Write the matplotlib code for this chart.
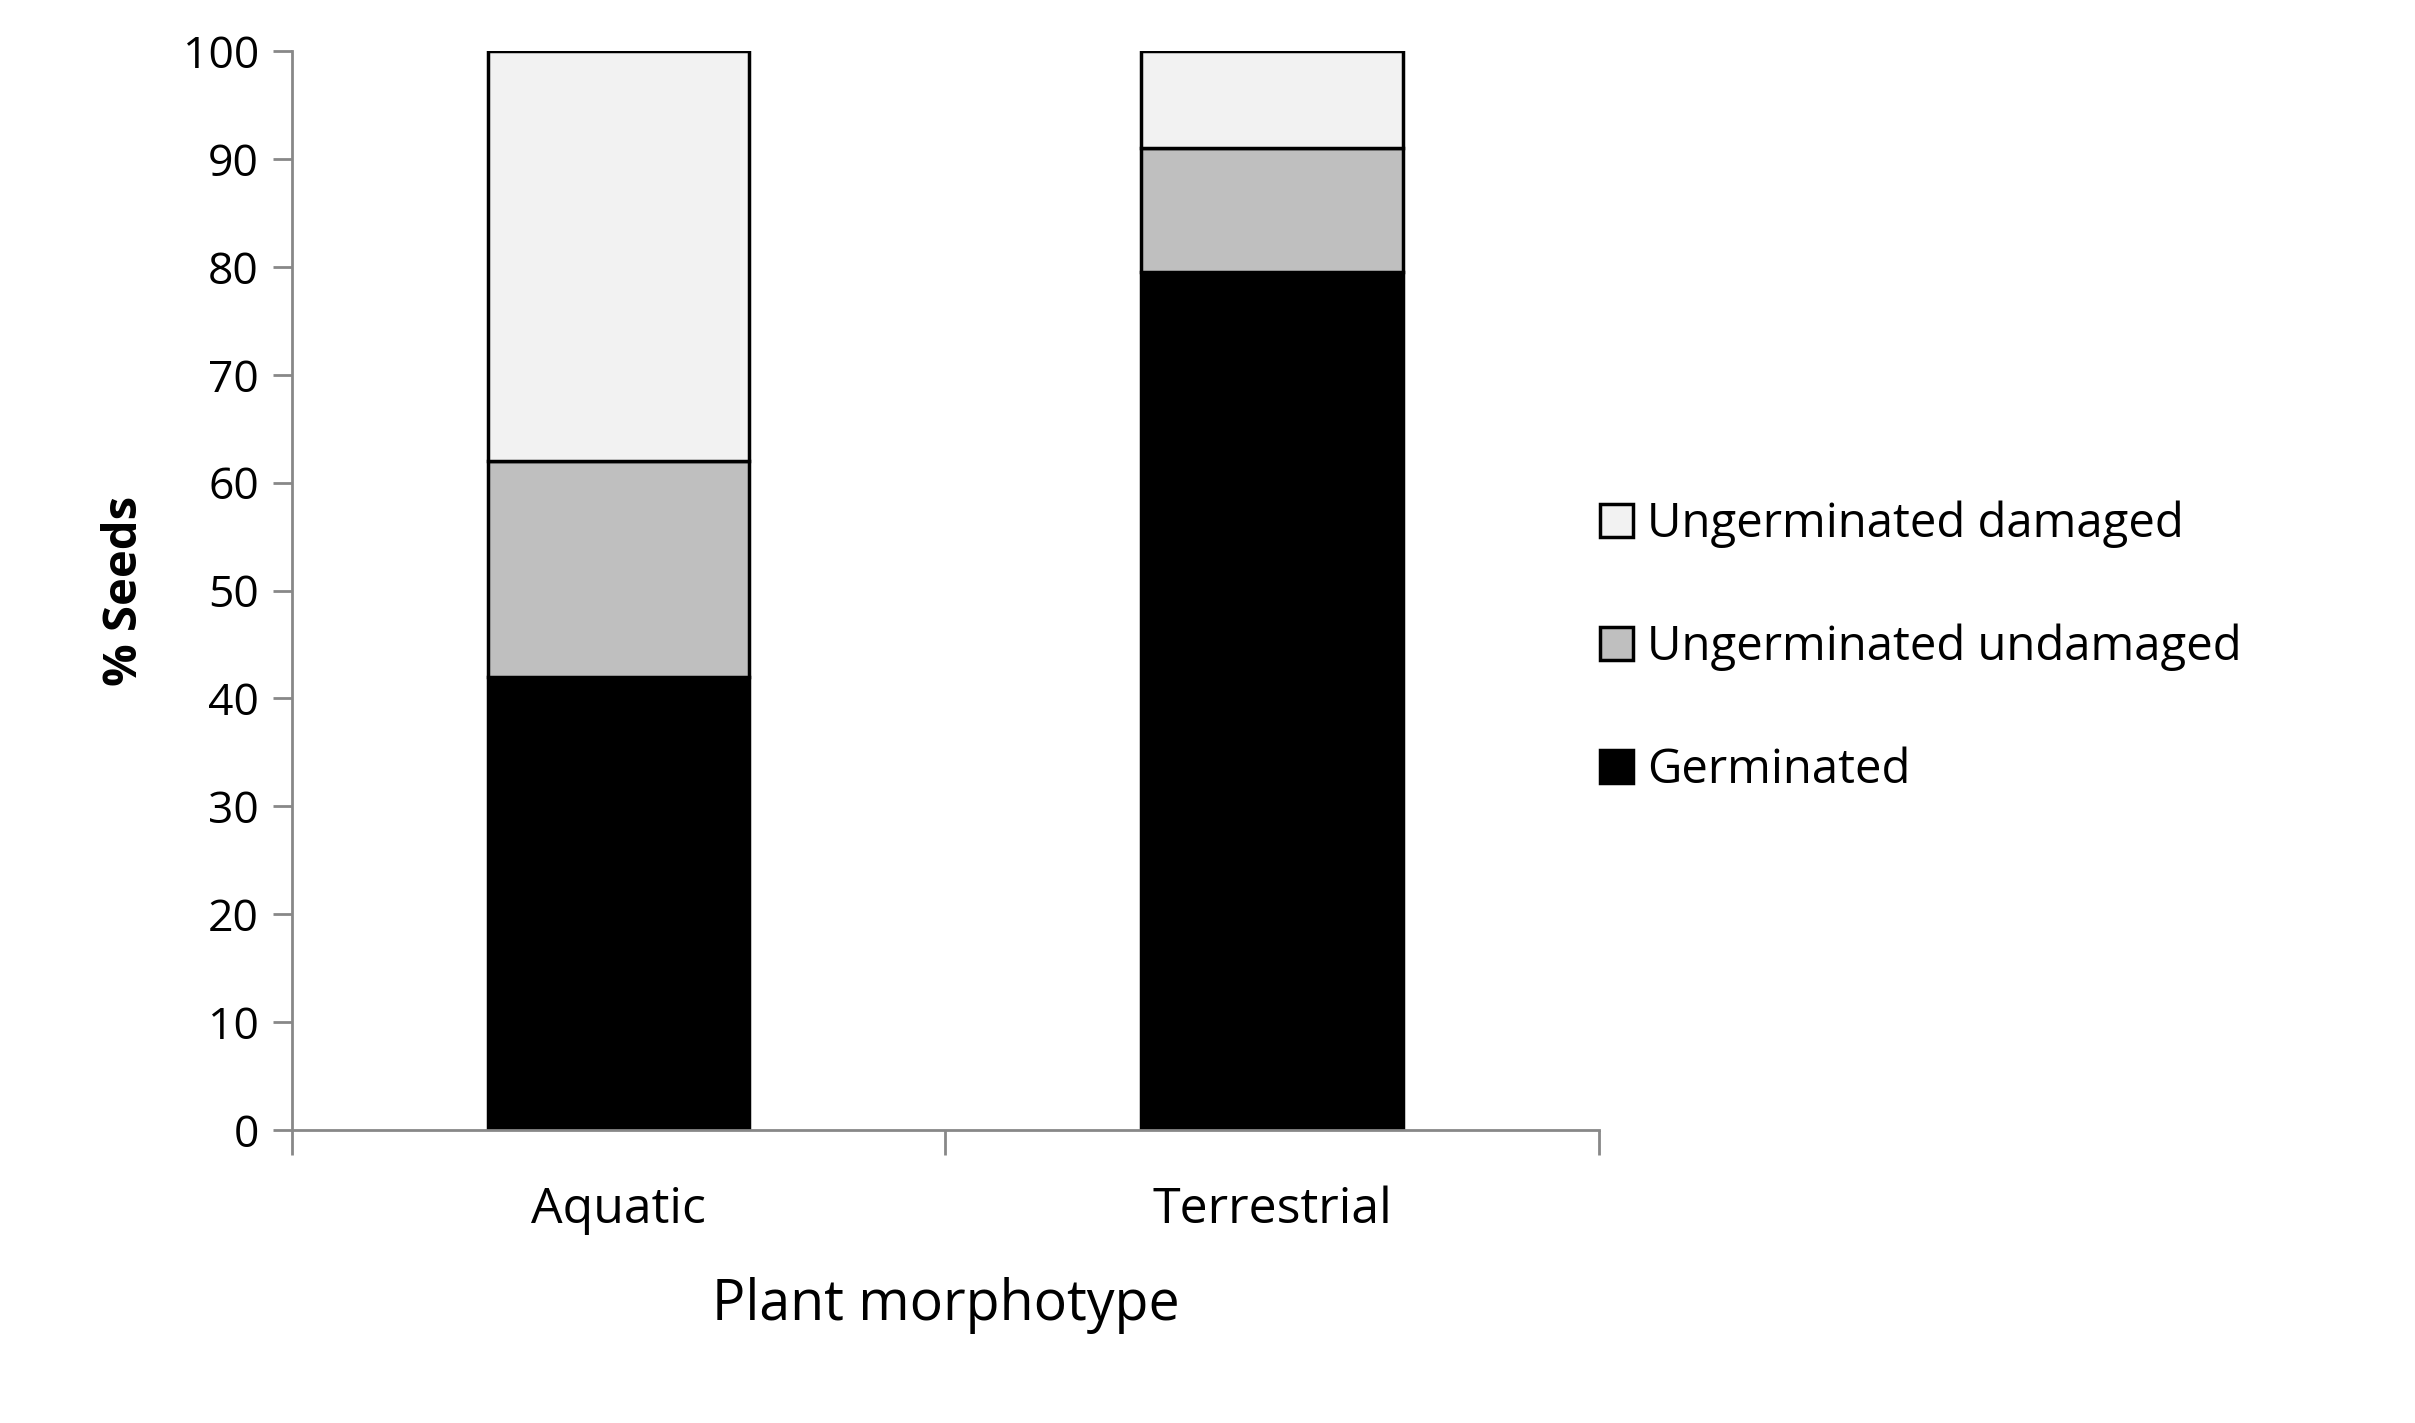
import matplotlib
matplotlib.use("Agg")
import matplotlib.pyplot as plt
import numpy as np

categories = ["Aquatic", "Terrestrial"]
germinated = [42, 79.5]
ungerm_undamaged = [20, 11.5]
ungerm_damaged = [38, 9]
series_names = ["Germinated", "Ungerminated undamaged", "Ungerminated damaged"]
colors = ["#000000", "#bfbfbf", "#f2f2f2"]

plt.rcParams['font.family'] = ['Open Sans', 'DejaVu Sans']
fig = plt.figure(figsize=(24.15, 14.23), dpi=100)
ax = fig.add_axes([0.121, 0.206, 0.541, 0.758])
x = np.arange(len(categories))
bottom = np.zeros(len(categories))
handles = []
for vals, name, c in zip([germinated, ungerm_undamaged, ungerm_damaged], series_names, colors):
    h = ax.bar(x, vals, 0.4, bottom=bottom, color=c, edgecolor="black", linewidth=2.5, label=name)
    handles.append(h)
    bottom += np.array(vals)

ax.set_xlim(-0.5, 1.5)
ax.set_ylim(0, 100)
ax.set_yticks(range(0, 101, 10))
ax.set_xticks([-0.5, 0.5, 1.5], minor=False)
ax.set_xticklabels([])
ax.set_xticks(x, minor=True)
ax.set_xticklabels(categories, minor=True, fontsize=36)
ax.tick_params(axis='x', which='minor', length=0, pad=40)
ax.tick_params(axis='x', which='major', length=18, width=2, color="#888888")
ax.tick_params(axis='y', length=14, width=2, color="#888888", labelsize=32, pad=10)
for s in ["top", "right"]:
    ax.spines[s].set_visible(False)
for s in ["left", "bottom"]:
    ax.spines[s].set_color("#888888")
    ax.spines[s].set_linewidth(2)
ax.set_ylabel("% Seeds", fontsize=34, fontweight="bold", labelpad=25)
ax.set_xlabel("Plant morphotype", fontsize=40, labelpad=30)

fig.legend(handles[::-1], series_names[::-1], loc="center left", bbox_to_anchor=(0.645, 0.545),
           frameon=False, fontsize=34, handlelength=0.7, handleheight=0.7, handletextpad=0.3,
           labelspacing=1.6)
fig.savefig("out.png", dpi=100)
